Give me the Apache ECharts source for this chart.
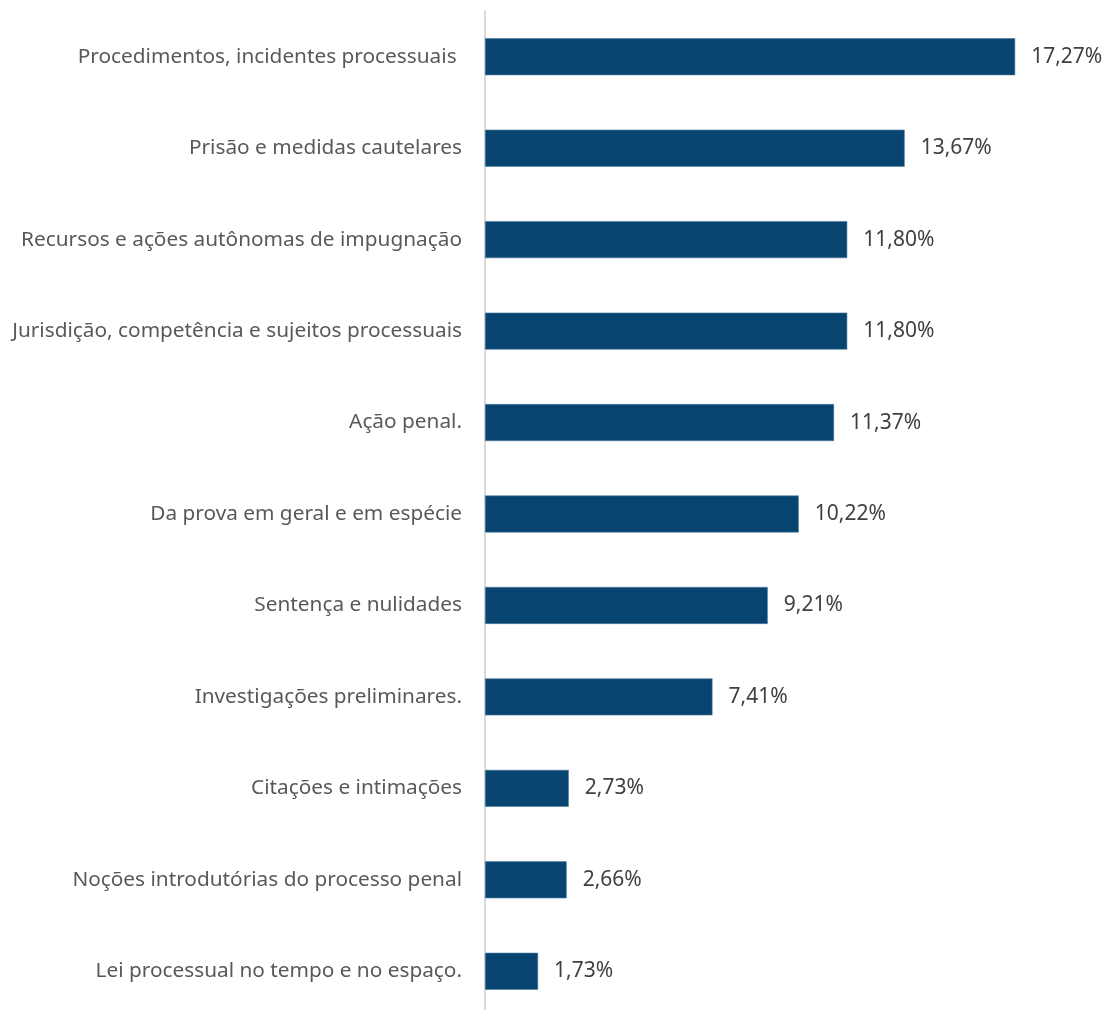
<!DOCTYPE html>
<html>
<head>
<meta charset="utf-8">
<style>
  html, body { margin: 0; padding: 0; background: #fff; }
  #chart { width: 1112px; height: 1010px; }
</style>
<script src="https://cdn.jsdelivr.net/npm/echarts@6/dist/echarts.min.js"></script>
</head>
<body>
<div id="chart"></div>
<script>
// categories top to bottom, as in the picture
const categories = [
  'Procedimentos, incidentes processuais ',
  'Prisão e medidas cautelares',
  'Recursos e ações autônomas de impugnação',
  'Jurisdição, competência e sujeitos processuais',
  'Ação penal.',
  'Da prova em geral e em espécie',
  'Sentença e nulidades',
  'Investigações preliminares.',
  'Citações e intimações',
  'Noções introdutórias do processo penal',
  'Lei processual no tempo e no espaço.'
]
const percentages = [17.27, 13.67, 11.80, 11.80, 11.37, 10.22, 9.21, 7.41, 2.73, 2.66, 1.73]

const chart = echarts.init(document.getElementById('chart'))

const option = {
  animation: false,
  grid: {
    left: 485,
    top: 11,
    width: 614,
    height: 1006,
    outerBoundsMode: 'none' // grid runs a bit past the bottom edge, like the original
  },
  xAxis: {
    type: 'value',
    min: 0,
    max: 20,
    show: false
  },
  yAxis: {
    type: 'category',
    inverse: true,
    data: categories,
    axisLine: { show: true, lineStyle: { color: '#d9d9d9', width: 2 } },
    axisTick: { show: false },
    axisLabel: {
      margin: 23,
      color: '#595959',
      fontSize: 20.8,
      fontFamily: 'Noto Sans'
    }
  },
  series: [{
    type: 'bar',
    data: percentages,
    barWidth: 37,
    itemStyle: { color: '#074570', borderColor: '#4f7ea3', borderWidth: 0.6 },
    label: {
      show: true,
      position: 'right',
      distance: 16,
      color: '#404040',
      fontSize: 21,
      fontFamily: 'Noto Sans',
      formatter: p => p.value.toFixed(2).replace('.', ',') + '%'
    }
  }]
}

chart.setOption(option)
</script>
</body>
</html>
